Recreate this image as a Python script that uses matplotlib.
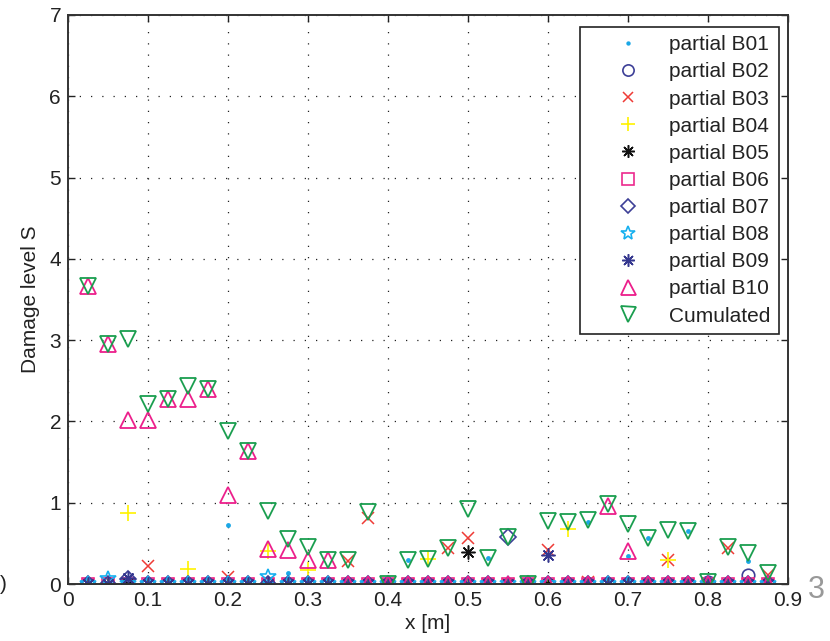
import matplotlib
matplotlib.use("Agg")
import matplotlib.pyplot as plt

plt.rcParams['font.family'] = ['Liberation Sans', 'DejaVu Sans']

# positions along the structure [m]
x_pos = [0.025, 0.05, 0.075, 0.1, 0.125, 0.15, 0.175, 0.2, 0.225, 0.25,
         0.275, 0.3, 0.325, 0.35, 0.375, 0.4, 0.425, 0.45, 0.475, 0.5,
         0.525, 0.55, 0.575, 0.6, 0.625, 0.65, 0.675, 0.7, 0.725, 0.75,
         0.775, 0.8, 0.825, 0.85, 0.875]

# partial damage levels per load block
b01 = [0, 0, 0, 0, 0, 0, 0, 0.72, 0, 0, 0.14, 0, 0, 0, 0, 0, 0.30, 0, 0, 0,
       0.32, 0, 0, 0, 0, 0.76, 0, 0.34, 0.57, 0, 0.65, 0, 0, 0.28, 0]
b02 = [0, 0, 0, 0, 0, 0, 0, 0, 0, 0, 0, 0, 0, 0, 0, 0, 0, 0, 0, 0,
       0, 0, 0, 0, 0, 0, 0, 0, 0, 0, 0, 0.02, 0, 0.11, 0]
b03 = [0, 0, 0, 0.22, 0, 0, 0, 0.08, 0, 0, 0, 0, 0, 0.28, 0.81, 0, 0, 0, 0.44, 0.56,
       0, 0, 0, 0.42, 0, 0.03, 0, 0, 0, 0.30, 0, 0, 0.44, 0, 0.11]
b04 = [0, 0, 0.87, 0, 0, 0.18, 0, 0, 0, 0.40, 0, 0.17, 0, 0, 0, 0, 0, 0.31, 0, 0,
       0, 0, 0, 0, 0.68, 0, 0, 0, 0, 0.30, 0, 0, 0, 0, 0]
b05 = [0, 0, 0, 0, 0, 0, 0, 0, 0, 0, 0, 0, 0, 0, 0, 0, 0, 0, 0, 0.39,
       0, 0, 0, 0, 0, 0, 0, 0, 0, 0, 0, 0, 0, 0, 0]
b06 = [0] * 35
b07 = [0, 0, 0.06, 0, 0, 0, 0, 0, 0, 0, 0, 0, 0, 0, 0, 0, 0, 0, 0, 0,
       0, 0.58, 0, 0, 0, 0, 0, 0, 0, 0, 0, 0, 0, 0, 0]
b08 = [0, 0.06, 0, 0, 0, 0, 0, 0, 0, 0.08, 0, 0, 0, 0, 0, 0, 0, 0, 0, 0,
       0, 0, 0, 0, 0, 0, 0, 0, 0, 0, 0, 0, 0, 0, 0]
b09 = [0, 0, 0.07, 0, 0, 0, 0, 0, 0, 0, 0, 0, 0, 0, 0, 0, 0, 0, 0, 0,
       0, 0, 0, 0.36, 0, 0, 0, 0, 0, 0, 0, 0, 0, 0, 0]
b10 = [3.66, 2.95, 2.02, 2.02, 2.28, 2.28, 2.40, 1.10, 1.64, 0.43, 0.42, 0.30, 0.30, 0, 0,
       0, 0, 0, 0, 0, 0, 0, 0, 0, 0, 0, 0.96, 0.40, 0, 0, 0, 0, 0, 0, 0]
cumulated = [3.66, 2.95, 3.02, 2.21, 2.28, 2.43, 2.40, 1.88, 1.64, 0.90, 0.55, 0.45, 0.30, 0.29,
             0.89, 0.0, 0.30, 0.31, 0.44, 0.92, 0.32, 0.58, 0.0, 0.78, 0.76, 0.79, 0.98, 0.74,
             0.57, 0.66, 0.65, 0.02, 0.45, 0.38, 0.13]

labels = ['partial B01', 'partial B02', 'partial B03', 'partial B04', 'partial B05',
          'partial B06', 'partial B07', 'partial B08', 'partial B09', 'partial B10',
          'Cumulated']
series = [b01, b02, b03, b04, b05, b06, b07, b08, b09, b10, cumulated]

styles = [
    dict(marker='o', ms=3.5, mfc='#1aa7e6', mec='#1aa7e6', mew=0),
    dict(marker='o', ms=9, mfc='none', mec='#3d3f97', mew=1.2),
    dict(marker='x', ms=8, mfc='none', mec='#ef3b36', mew=1.1),
    dict(marker='+', ms=11, mfc='none', mec='#fff200', mew=1.2),
    dict(marker=(8, 2, 0), ms=10, mfc='none', mec='#111111', mew=1.1),
    dict(marker='s', ms=9, mfc='none', mec='#ec2a8d', mew=1.2),
    dict(marker='D', ms=8, mfc='none', mec='#3d3f97', mew=1.2),
    dict(marker='*', ms=12, mfc='none', mec='#16b0ef', mew=1.2),
    dict(marker=(8, 2, 0), ms=10, mfc='none', mec='#35378f', mew=1.1),
    dict(marker='^', ms=12, mfc='none', mec='#ec1f8b', mew=1.3),
    dict(marker='v', ms=12, mfc='none', mec='#1a9e4f', mew=1.3),
]

fig = plt.figure(figsize=(8.30, 6.41), dpi=100)
ax = fig.add_axes([68 / 830, 1 - 584 / 641, 720 / 830, 569 / 641])

for vals, lab, st in zip(series, labels, styles):
    ax.plot(x_pos, vals, linestyle='none', label=lab, **st)

ax.set_xlim(0, 0.9)
ax.set_ylim(0, 7)
ax.set_xticks([0, 0.1, 0.2, 0.3, 0.4, 0.5, 0.6, 0.7, 0.8, 0.9])
ax.set_xticklabels(['0', '0.1', '0.2', '0.3', '0.4', '0.5', '0.6', '0.7', '0.8', '0.9'])
ax.set_yticks(range(8))
ax.grid(True, color='#222222', linestyle=(0, (1, 8)), linewidth=0.9)
ax.tick_params(direction='in', length=5, width=1.0, top=True, right=True,
               labelsize=15, colors='#222222', pad=5)
for sp in ax.spines.values():
    sp.set_linewidth(1.4)
    sp.set_color('#333333')

ax.set_xlabel('x [m]', fontsize=15, color='#222222', labelpad=3)
ax.set_ylabel('Damage level S', fontsize=15, color='#222222', labelpad=7)

leg = ax.legend(loc='upper right', bbox_to_anchor=(0.9875, 0.979), borderaxespad=0,
                fontsize=15, fancybox=False, framealpha=1, edgecolor='#222222',
                labelspacing=0.39, handlelength=3.8, handletextpad=0.1,
                borderpad=0.4, markerscale=0.9)
leg.get_frame().set_linewidth(1.2)
for t in leg.get_texts():
    t.set_color('#222222')

# fragments of neighbouring glyphs at the page edges
fig.text(808 / 830, 1 - 590 / 641, '3', fontsize=22, color='#999999', va='center')
fig.text(0.0, 1 - 584 / 641, ')', fontsize=15, color='#222222', va='center')

fig.savefig('out.png', dpi=100)
